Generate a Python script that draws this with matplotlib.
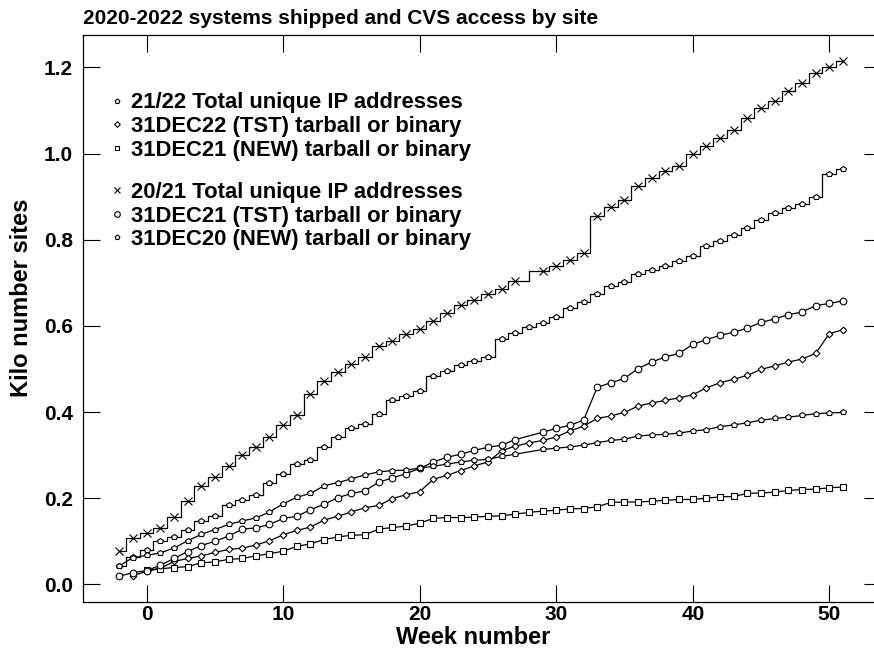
import numpy as np
import matplotlib
matplotlib.use("Agg")
from matplotlib import pyplot as plt

plt.rcParams['font.family'] = ['Liberation Sans', 'DejaVu Sans']
plt.rcParams['font.weight'] = 'bold'

# weeks for the 21/22 group (complete) and the 20/21 group (week 28 missing)
weeks_2122 = list(range(-2, 52))
weeks_2021 = list(range(-2, 28)) + list(range(29, 52))
weeks_tst22 = list(range(-1, 52))
weeks_new21 = list(range(0, 52))

total_2122 = [0.043, 0.063, 0.080, 0.101, 0.110, 0.127, 0.147, 0.158, 0.184, 0.195,
              0.207, 0.236, 0.257, 0.279, 0.288, 0.318, 0.341, 0.363, 0.373, 0.396,
              0.427, 0.437, 0.449, 0.483, 0.496, 0.508, 0.518, 0.528, 0.569, 0.584,
              0.598, 0.607, 0.621, 0.641, 0.655, 0.673, 0.693, 0.702, 0.721, 0.729,
              0.739, 0.751, 0.762, 0.786, 0.797, 0.812, 0.828, 0.845, 0.861, 0.874,
              0.884, 0.900, 0.952, 0.965]
tst_2022 = [0.020, 0.030, 0.037, 0.053, 0.060, 0.066, 0.074, 0.081, 0.084, 0.091,
            0.101, 0.115, 0.125, 0.133, 0.149, 0.158, 0.168, 0.178, 0.183, 0.199,
            0.208, 0.215, 0.244, 0.253, 0.264, 0.275, 0.284, 0.310, 0.321, 0.328,
            0.334, 0.342, 0.356, 0.367, 0.385, 0.391, 0.399, 0.414, 0.421, 0.427,
            0.433, 0.440, 0.456, 0.468, 0.476, 0.485, 0.499, 0.507, 0.516, 0.523,
            0.536, 0.582, 0.591]
new_2021 = [0.033, 0.036, 0.039, 0.041, 0.050, 0.052, 0.058, 0.060, 0.066, 0.071,
            0.077, 0.088, 0.094, 0.104, 0.110, 0.114, 0.115, 0.128, 0.132, 0.135,
            0.142, 0.153, 0.155, 0.155, 0.156, 0.158, 0.159, 0.163, 0.167, 0.170,
            0.172, 0.175, 0.176, 0.180, 0.190, 0.191, 0.191, 0.193, 0.195, 0.197,
            0.197, 0.200, 0.203, 0.204, 0.211, 0.212, 0.214, 0.218, 0.220, 0.221,
            0.224, 0.226]

total_2021 = [0.077, 0.107, 0.120, 0.131, 0.157, 0.194, 0.228, 0.249, 0.275, 0.301,
              0.318, 0.341, 0.369, 0.392, 0.442, 0.471, 0.493, 0.511, 0.528, 0.553,
              0.564, 0.580, 0.593, 0.611, 0.629, 0.648, 0.660, 0.673, 0.686, 0.704,
              0.728, 0.739, 0.754, 0.768, 0.856, 0.876, 0.893, 0.924, 0.943, 0.959,
              0.971, 1.000, 1.018, 1.037, 1.054, 1.082, 1.106, 1.122, 1.145, 1.164,
              1.186, 1.201, 1.215]
tst_2021 = [0.019, 0.027, 0.032, 0.044, 0.060, 0.076, 0.090, 0.100, 0.112, 0.128,
            0.131, 0.139, 0.153, 0.158, 0.173, 0.186, 0.201, 0.211, 0.217, 0.237,
            0.247, 0.257, 0.269, 0.284, 0.295, 0.302, 0.311, 0.318, 0.323, 0.336,
            0.353, 0.362, 0.369, 0.381, 0.457, 0.468, 0.478, 0.501, 0.516, 0.528,
            0.536, 0.557, 0.568, 0.578, 0.585, 0.595, 0.608, 0.616, 0.626, 0.632,
            0.647, 0.652, 0.658]
new_2020 = [0.043, 0.062, 0.067, 0.073, 0.084, 0.101, 0.116, 0.127, 0.139, 0.147,
            0.154, 0.168, 0.187, 0.202, 0.211, 0.229, 0.236, 0.245, 0.254, 0.261,
            0.264, 0.265, 0.270, 0.274, 0.279, 0.284, 0.288, 0.290, 0.297, 0.302,
            0.313, 0.316, 0.319, 0.323, 0.329, 0.334, 0.337, 0.344, 0.347, 0.348,
            0.351, 0.356, 0.359, 0.366, 0.370, 0.375, 0.381, 0.385, 0.388, 0.392,
            0.396, 0.398, 0.399]

labels_a = ['21/22 Total unique IP addresses',
            '31DEC22 (TST) tarball or binary',
            '31DEC21 (NEW) tarball or binary']
labels_b = ['20/21 Total unique IP addresses',
            '31DEC21 (TST) tarball or binary',
            '31DEC20 (NEW) tarball or binary']

fig = plt.figure(figsize=(8.74, 6.52), dpi=100)
ax = fig.add_axes([0.0946, 0.0767, 0.9130, 0.8695])

lw = 0.9
kw = dict(color='black', lw=lw, mfc='white', mec='black', mew=0.8)

h1, = ax.plot(weeks_2122, total_2122, marker='p', ms=4.2, drawstyle='steps-mid', **kw)
h2, = ax.plot(weeks_tst22, tst_2022, marker='D', ms=3.4, **kw)
h3, = ax.plot(weeks_new21, new_2021, marker='s', ms=4.0, **kw)
h4, = ax.plot(weeks_2021, total_2021, marker='x', ms=5.2, drawstyle='steps-mid', **kw)
h5, = ax.plot(weeks_2021, tst_2021, marker='o', ms=4.8, **kw)
h6, = ax.plot(weeks_2021, new_2020, marker='p', ms=4.2, **kw)

ax.set_xlim(-4.68, 53.76)
ax.set_ylim(-0.041, 1.275)
ax.set_xticks([0, 10, 20, 30, 40, 50])
ax.set_yticks([0.0, 0.2, 0.4, 0.6, 0.8, 1.0, 1.2])
ax.set_yticklabels(['0.0', '0.2', '0.4', '0.6', '0.8', '1.0', '1.2'])
ax.tick_params(direction='in', length=12.5, width=0.8, top=True, right=True,
               labelsize=15)
ax.tick_params(axis='x', pad=2.5)
ax.tick_params(axis='y', pad=7)
for lab in ax.get_xticklabels() + ax.get_yticklabels():
    lab.set_fontweight('bold')
for sp in ax.spines.values():
    sp.set_linewidth(0.9)

ax.set_xlabel('Week number', fontsize=17, fontweight='bold')
ax.xaxis.set_label_coords(0.49, -0.043)
ax.set_ylabel('Kilo number sites', fontsize=17, fontweight='bold')
ax.yaxis.set_label_coords(-0.0625, 0.536)

fig.text(0.095, 1 - 24 / 652, '2020-2022 systems shipped and CVS access by site',
         fontsize=15, fontweight='bold', ha='left', va='baseline')

leg_kw = dict(frameon=False, handlelength=0, handletextpad=0.65, borderpad=0,
              borderaxespad=0, labelspacing=0.12, prop={'size': 15.8, 'weight': 'bold'},
              loc='upper left', markerscale=0.85)
leg1 = ax.legend([h1, h2, h3], labels_a, bbox_to_anchor=(0.0433, 0.899), **leg_kw)
ax.add_artist(leg1)
ax.legend([h4, h5, h6], labels_b, bbox_to_anchor=(0.0433, 0.741), **leg_kw)

fig.savefig('out.png', dpi=100)
